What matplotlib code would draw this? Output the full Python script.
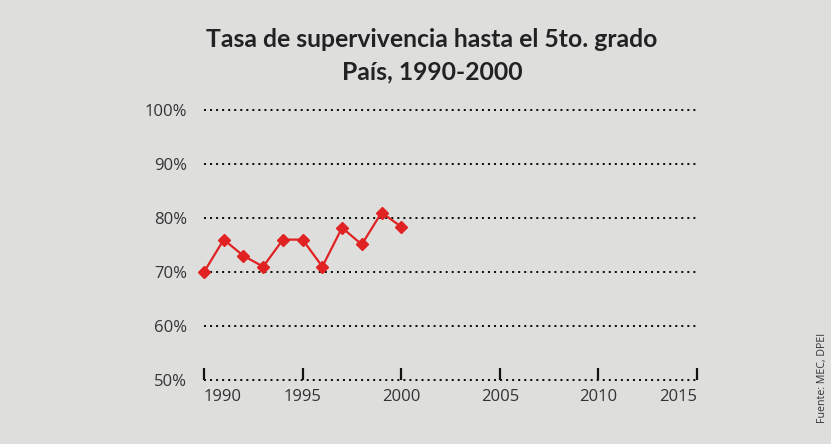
import numpy as np
import matplotlib
matplotlib.use('Agg')
import matplotlib.pyplot as plt
import matplotlib.transforms as mtransforms

years = [1990, 1991, 1992, 1993, 1994, 1995, 1996, 1997, 1998, 1999, 2000]
rates = [70.0, 76.0, 73.0, 71.0, 76.0, 76.0, 71.0, 78.2, 75.1, 81.0, 78.4]
y_ticks = [50, 60, 70, 80, 90, 100]
x_ticks = [1990, 1995, 2000, 2005, 2010, 2015]

bg = '#dededd'
plt.rcParams['font.family'] = ['Open Sans', 'DejaVu Sans']

fig = plt.figure(figsize=(8.31, 4.44), dpi=100, facecolor=bg)
ax = fig.add_axes([0.2455, 0.1441, 0.5933, 0.6081], facecolor=bg)

# dotted grid lines
for v in y_ticks:
    ax.axhline(v, color='#111111', linestyle=(0, (1, 2)), linewidth=1.45,
               clip_on=False, zorder=1)

ax.plot(years, rates, color='#e02222', linewidth=1.6, marker='D',
        markersize=6.5, clip_on=False, zorder=3)

ax.set_xlim(1990, 2015)
ax.set_ylim(50, 100)
for s in ax.spines.values():
    s.set_visible(False)

ax.set_yticks(y_ticks)
ax.set_yticklabels([f'{v}%' for v in y_ticks], fontsize=12, color='#333333')
ax.tick_params(axis='y', length=0, pad=12)

ax.set_xticks(x_ticks)
ax.set_xticklabels([])
ax.tick_params(axis='x', direction='in', length=8.5, width=1.6, color='#111111')

# year labels: first one pushed right, last one pulled left
trans = mtransforms.blended_transform_factory(ax.transData, ax.transAxes)
for i, yr in enumerate(x_ticks):
    ha = 'center'
    if i == 0:
        ha = 'left'
    elif i == len(x_ticks) - 1:
        ha = 'right'
    ax.text(yr, -0.033, str(yr), transform=trans, ha=ha, va='top',
            fontsize=12, color='#333333')

fig.text(0.52, 0.912, 'Tasa de supervivencia hasta el 5to. grado', ha='center', va='center',
         fontsize=17.8, fontweight='bold', color='#222222', family=['Lato', 'DejaVu Sans'])
fig.text(0.52, 0.838, 'País, 1990-2000', ha='center', va='center',
         fontsize=17.8, fontweight='bold', color='#222222', family=['Lato', 'DejaVu Sans'])

fig.text(0.990, 0.047, 'Fuente: MEC, DPEI', rotation=90, ha='center', va='bottom',
         fontsize=7.7, color='#333333')

fig.savefig('out.png', dpi=100, facecolor=bg)
